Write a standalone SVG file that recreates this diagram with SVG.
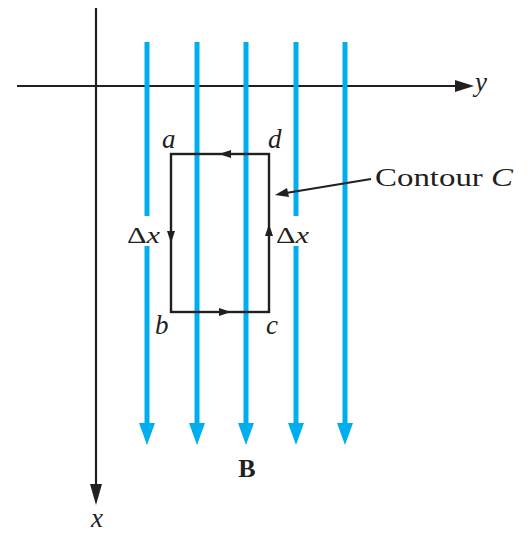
<svg xmlns="http://www.w3.org/2000/svg" width="528" height="533" viewBox="0 0 528 533">
<defs>
<style>
.ax{stroke:#231f20;stroke-width:2.2;fill:none}
.bl{stroke:#00aeef;stroke-width:5;fill:none}
.bh{fill:#00aeef}
.ct{stroke:#231f20;stroke-width:2.4;fill:none}
.hd{fill:#231f20}
.it{font-family:"Liberation Serif",serif;font-style:italic;fill:#231f20}
.rm{font-family:"Liberation Serif",serif;fill:#231f20}
</style>
</defs>
<rect width="528" height="533" fill="#fff"/>
<g id="axes">
<line class="ax" x1="17" y1="86" x2="460" y2="86"/>
<polygon class="hd" points="474,86 455,80 455,92"/>
<line class="ax" x1="96" y1="8" x2="96" y2="490"/>
<polygon class="hd" points="96,505 90,484 102,484"/>
<text class="it" x="475" y="91" font-size="27">y</text>
<text class="it" x="97" y="527" font-size="27" text-anchor="middle">x</text>
</g>
<g id="field">
<line class="bl" x1="147" y1="42" x2="147" y2="216"/>
<line class="bl" x1="147" y1="246" x2="147" y2="426"/>
<polygon class="bh" points="147,445 139,423 155,423"/>
<line class="bl" x1="197" y1="42" x2="197" y2="426"/>
<polygon class="bh" points="197,445 189,423 205,423"/>
<line class="bl" x1="246" y1="42" x2="246" y2="426"/>
<polygon class="bh" points="246,445 238,423 254,423"/>
<line class="bl" x1="296" y1="42" x2="296" y2="216"/>
<line class="bl" x1="296" y1="246" x2="296" y2="426"/>
<polygon class="bh" points="296,445 288,423 304,423"/>
<line class="bl" x1="345" y1="42" x2="345" y2="426"/>
<polygon class="bh" points="345,445 337,423 353,423"/>
<text class="rm" x="247" y="477" font-size="26" font-weight="bold" text-anchor="middle">B</text>
</g>
<g id="contour">
<rect class="ct" x="171" y="154" width="98" height="158"/>
<polygon class="hd" points="219,154 231,150 231,158"/>
<polygon class="hd" points="171,243 167,231 175,231"/>
<polygon class="hd" points="231,312 219,308 219,316"/>
<polygon class="hd" points="269,224 265,236 273,236"/>
<text class="it" x="162" y="148" font-size="27">a</text>
<text class="it" x="268" y="148" font-size="27">d</text>
<text class="it" x="155" y="334" font-size="27">b</text>
<text class="it" x="266" y="334" font-size="27">c</text>
<text class="rm" x="127" y="243" font-size="24" textLength="33" lengthAdjust="spacingAndGlyphs">Δ<tspan font-style="italic">x</tspan></text>
<text class="rm" x="276" y="243" font-size="24" textLength="33" lengthAdjust="spacingAndGlyphs">Δ<tspan font-style="italic">x</tspan></text>
</g>
<g id="label">
<line class="ax" x1="371" y1="179" x2="286" y2="193" stroke-width="2"/>
<polygon class="hd" points="275,195 287,188 289,197"/>
<text class="rm" x="375" y="186" font-size="26" textLength="138" lengthAdjust="spacingAndGlyphs">Contour <tspan font-style="italic">C</tspan></text>
</g>
</svg>
